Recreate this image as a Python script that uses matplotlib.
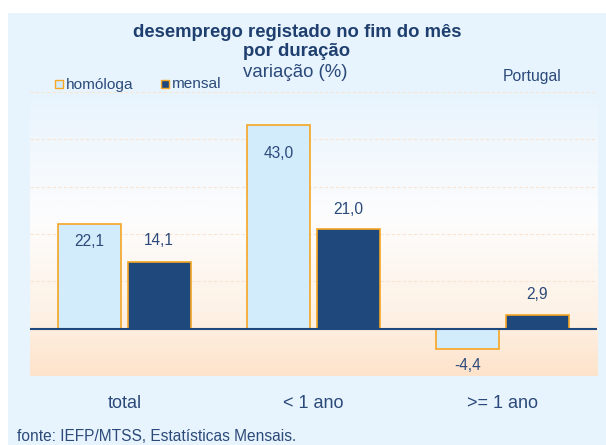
import numpy as np
import matplotlib
matplotlib.use("Agg")
import matplotlib.pyplot as plt
from matplotlib.patches import Rectangle
from matplotlib.colors import LinearSegmentedColormap
import matplotlib.transforms as mtransforms

plt.rcParams['font.family'] = ['Liberation Sans', 'DejaVu Sans']

# ---- data ----
categories = ["total", "< 1 ano", ">= 1 ano"]
series_names = ["homóloga", "mensal"]
homologa = [22.1, 43.0, -4.4]
mensal = [14.1, 21.0, 2.9]
title_lines = ["desemprego registado no fim do mês", "por duração"]
subtitle = "variação (%)"
region = "Portugal"
source = "fonte: IEFP/MTSS, Estatísticas Mensais."

# ---- style ----
W, H = 606, 445
txt_col = "#2B4A7A"
title_col = "#1F3F6F"
panel_col = "#E8F4FD"
light_fill = "#D3ECFC"
dark_fill = "#1F497D"
edge_col = "#F5A623"

fig = plt.figure(figsize=(W / 100, H / 100), dpi=100, facecolor="white")

# panel background
fig.patches.append(Rectangle((8 / W, 0), 1 - 8 / W, (H - 13) / H,
                             transform=fig.transFigure, facecolor=panel_col,
                             edgecolor="none", zorder=-10))

ax = fig.add_axes([30 / W, (H - 376) / H, 567 / W, 284 / H])
ax.set_facecolor("none")

# gradient background of the plot area
cmap = LinearSegmentedColormap.from_list(
    "bg", [(0.0, "#FDE3CB"), (0.2, "#FEF1E4"), (0.55, "#FDFDFD"), (1.0, "#E8F4FD")])
grad = np.linspace(0, 1, 256).reshape(-1, 1)
ax.imshow(grad, cmap=cmap, origin="lower", extent=[0, 1, 0, 1],
          transform=ax.transAxes, aspect="auto", zorder=0)

x = np.arange(len(categories))
bw = 0.333
off = 0.184
ax.set_xlim(-0.5, len(categories) - 0.5)
ax.set_ylim(-10, 50)

for gy in [10, 20, 30, 40, 50]:
    ax.axhline(gy, color="#F8E4D0", lw=0.8, ls=(0, (3, 2)), zorder=1)

b1 = ax.bar(x - off, homologa, bw, color=light_fill, edgecolor=edge_col,
            linewidth=1.2, zorder=3)
b2 = ax.bar(x + off, mensal, bw, color=dark_fill, edgecolor=edge_col,
            linewidth=1.2, zorder=3)
ax.axhline(0, color=dark_fill, lw=1.5, zorder=4)

# label offsets in pixels from bar end
off_h = [-17, -28, -16]
off_m = [21, 20, 20.5]
for xi, v, o in zip(x - off, homologa, off_h):
    dy = o if v >= 0 else -abs(o)
    ax.annotate(f"{v:.1f}".replace(".", ","), (xi, v), xytext=(0, dy),
                textcoords="offset pixels", ha="center", va="center",
                fontsize=11.2, color=txt_col, zorder=5)
for xi, v, o in zip(x + off, mensal, off_m):
    ax.annotate(f"{v:.1f}".replace(".", ","), (xi, v), xytext=(0, o),
                textcoords="offset pixels", ha="center", va="center",
                fontsize=11.2, color=txt_col, zorder=5)

# category labels
trans = mtransforms.blended_transform_factory(ax.transData, ax.transAxes)
for xi, c in zip(x, categories):
    ax.text(xi, -(408 - 376) / 284, c, transform=trans, ha="center",
            va="baseline", fontsize=13, color=txt_col)

for s in ax.spines.values():
    s.set_visible(False)
ax.set_xticks([])
ax.set_yticks([])

# titles
fig.text(297 / W, (H - 36.7) / H, title_lines[0], ha="center", va="baseline",
         fontsize=13.3, fontweight="bold", color=title_col)
fig.text(297 / W, (H - 56) / H, title_lines[1], ha="center", va="baseline",
         fontsize=13.3, fontweight="bold", color=title_col)
fig.text(295 / W, (H - 76.7) / H, subtitle, ha="center", va="baseline",
         fontsize=13.4, color=txt_col)
fig.text(502.7 / W, (H - 81) / H, region, ha="left", va="baseline",
         fontsize=11.3, color=txt_col)

# legend
leg_sq_x = [55, 161]
leg_tx_x = [66, 172]
for name, fc, sx, tx in zip(series_names, [light_fill, dark_fill], leg_sq_x, leg_tx_x):
    fig.patches.append(Rectangle((sx / W, (H - 88) / H), 8 / W, 8 / H,
                                 transform=fig.transFigure, facecolor=fc,
                                 edgecolor=edge_col, linewidth=1))
    fig.text(tx / W, (H - 88.5) / H, name, ha="left", va="baseline",
             fontsize=11.1, color=txt_col)

fig.text(17 / W, 4 / H, source, ha="left", va="baseline",
         fontsize=11.2, color=txt_col)

fig.savefig("out.png", dpi=100, facecolor="white")
